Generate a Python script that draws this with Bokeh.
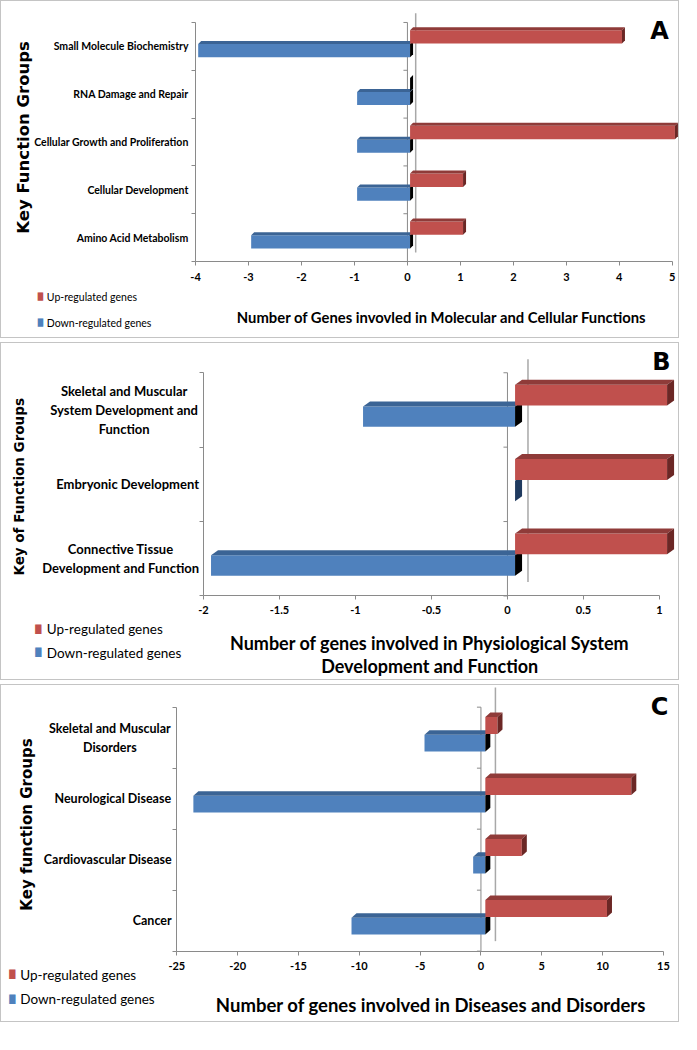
from math import pi
from bokeh.plotting import figure
from bokeh.models import FixedTicker, Label, Range1d, NumeralTickFormatter
from bokeh.layouts import column
from bokeh.embed import file_html
from bokeh.resources import INLINE

# ---------------- data ----------------
a_categories = ["Small Molecule Biochemistry", "RNA Damage and Repair",
                "Cellular Growth and Proliferation", "Cellular Development",
                "Amino Acid Metabolism"]
a_up = [4, 0, 5, 1, 1]
a_down = [-4, -1, -1, -1, -3]
a_ticks = [-4, -3, -2, -1, 0, 1, 2, 3, 4, 5]

b_categories = ["Skeletal and Muscular\nSystem Development and\nFunction",
                "Embryonic Development",
                "Connective Tissue\nDevelopment and Function"]
b_up = [1, 1, 1]
b_down = [-1, 0, -2]
b_ticks = [-2, -1.5, -1, -0.5, 0, 0.5, 1]

c_categories = ["Skeletal and Muscular\nDisorders", "Neurological Disease",
                "Cardiovascular Disease", "Cancer"]
c_up = [1, 12, 3, 10]
c_down = [-5, -24, -1, -11]
c_ticks = [-25, -20, -15, -10, -5, 0, 5, 10, 15]

legend_labels = ["Up-regulated genes", "Down-regulated genes"]

# ---------------- style ----------------
W, H = 679, 338
S = 0.985
FONT = "Lato"
WIDE = "DejaVu Sans"
RED, RED_TOP, RED_SIDE = "#c0504d", "#8f3b39", "#6b2725"
BLUE, BLUE_TOP, NAVY = "#4f81bd", "#3b6495", "#1f3a5f"
AX = "#8a8a8a"


def build(cats, up, down, ticks, cfg):
    n = len(cats)
    top0 = cfg["box_top"] + 1
    mx = lambda xr: (xr - 4) * S
    my = lambda yr: (yr - top0) * S
    fl, fr = mx(cfg["frame"][0]), mx(cfg["frame"][1])
    ft, fb = my(cfg["frame"][2]), my(cfg["frame"][3])
    xmin, xmax = ticks[0], ticks[-1]
    ppx = (fr - fl) / (xmax - xmin)
    ppy = (fb - ft) / n
    X0, X1 = xmin - fl / ppx, xmax + (W - fr) / ppx
    Y0, Y1 = -0.5 - (H - fb) / ppy, n - 0.5 + ft / ppy
    p = figure(width=W, height=H, x_range=Range1d(X0, X1),
               y_range=Range1d(Y0, Y1), output_backend="svg",
               toolbar_location=None, min_border=0,
               styles={"border": "1px solid #c4c4c4"})
    p.grid.visible = False
    p.outline_line_color = None
    ddx = cfg["depth"][0] / ppx
    ddy = cfg["depth"][1] / ppy
    s = cfg["shift"]
    yc = [n - 1 - k for k in range(n)]
    bounds = [k - 0.5 for k in range(n + 1)]

    # zero line (with its small ticks) and back-wall line
    p.segment(x0=[0], y0=[-0.5], x1=[0], y1=[n - 0.5], line_color=AX, line_width=1)
    p.segment(x0=[-4 / ppx] * len(bounds), y0=bounds, x1=[0] * len(bounds), y1=bounds,
              line_color=AX, line_width=1)
    gap = cfg["back_gap"] / ppy
    ytop = n - 0.5 + (ft - my(cfg["back_top"])) / ppy
    p.segment(x0=[cfg["back_x"]], y0=[-0.5 + gap], x1=[cfg["back_x"]], y1=[ytop],
              line_color="#a8a8a8", line_width=1.5)

    rb = [y + 0.06 for y in yc]
    rt = [y + 0.34 for y in yc]
    bb = [y - 0.227 for y in yc]
    bt = [y + 0.048 for y in yc]

    # down-regulated (blue)
    neg = [k for k in range(n) if down[k] < 0]
    p.quad(left=[down[k] + s for k in neg], right=[s] * len(neg),
           bottom=[bb[k] for k in neg], top=[bt[k] for k in neg],
           fill_color=BLUE, line_color=None)
    p.patches(xs=[[down[k] + s, s, s + ddx, down[k] + s + ddx] for k in neg],
              ys=[[bt[k], bt[k], bt[k] + ddy, bt[k] + ddy] for k in neg],
              fill_color=BLUE_TOP, line_color=None)
    p.patches(xs=[[s, s + ddx, s + ddx, s] for k in range(n)],
              ys=[[bb[k], bb[k] + ddy, bt[k] + ddy, bt[k]] for k in range(n)],
              fill_color=["black" if down[k] < 0 else NAVY for k in range(n)],
              line_color=None)

    # up-regulated (red)
    pos = [k for k in range(n) if up[k] > 0]
    p.quad(left=[s] * len(pos), right=[up[k] + s for k in pos],
           bottom=[rb[k] for k in pos], top=[rt[k] for k in pos],
           fill_color=RED, line_color=None)
    p.patches(xs=[[s, up[k] + s, up[k] + s + ddx, s + ddx] for k in pos],
              ys=[[rt[k], rt[k], rt[k] + ddy, rt[k] + ddy] for k in pos],
              fill_color=RED_TOP, line_color=None)
    p.patches(xs=[[up[k] + s, up[k] + s + ddx, up[k] + s + ddx, up[k] + s] for k in range(n)],
              ys=[[rb[k], rb[k] + ddy, rt[k] + ddy, rt[k]] for k in range(n)],
              fill_color=[RED_SIDE if up[k] > 0 else "black" for k in range(n)],
              line_color=None)

    # axes (drawn at the chart's own data location)
    xa = p.xaxis[0]
    xa.fixed_location = -0.5
    xa.bounds = (xmin, xmax)
    xa.ticker = FixedTicker(ticks=ticks)
    xa.formatter = NumeralTickFormatter(format="0.[0]")
    xa.axis_line_color = AX
    xa.major_tick_line_color = AX
    xa.major_tick_out = 4
    xa.major_tick_in = 0
    xa.minor_tick_line_color = None
    xa.major_label_text_font = FONT
    xa.major_label_text_font_style = "bold"
    xa.major_label_text_font_size = cfg["tick_size"]
    xa.major_label_text_color = "black"
    xa.major_label_standoff = cfg["tick_standoff"]

    ya = p.yaxis[0]
    ya.fixed_location = xmin
    ya.bounds = (-0.5, n - 0.5)
    ya.ticker = FixedTicker(ticks=yc, minor_ticks=bounds)
    ya.axis_line_color = AX
    ya.major_tick_line_color = None
    ya.major_tick_out = 0
    ya.major_tick_in = 0
    ya.minor_tick_line_color = AX
    ya.minor_tick_out = 4
    ya.minor_tick_in = 0
    if cfg["cat_centers"] is None:
        ya.major_label_overrides = {yc[k]: cats[k] for k in range(n)}
        ya.major_label_text_font = FONT
        ya.major_label_text_font_style = "bold"
        ya.major_label_text_font_size = cfg["cat_size"]
        ya.major_label_text_color = "black"
        ya.major_label_standoff = 3
    else:
        ya.major_label_overrides = {yc[k]: "" for k in range(n)}
        for k in range(n):
            p.add_layout(Label(x=mx(cfg["cat_centers"][k]), y=yc[k],
                               x_units="screen", y_units="data", text=cats[k],
                               text_font=FONT, text_font_style="bold",
                               text_font_size=cfg["cat_size"], text_align="center",
                               text_baseline="middle", text_color="black",
                               text_line_height=cfg["line_h"]))

    def lab(text, xr, yr, size, font, style="normal", align="center", angle=0,
            color="black"):
        p.add_layout(Label(x=mx(xr), y=H - my(yr), x_units="screen",
                           y_units="screen", text=text, text_font=font,
                           text_font_style=style, text_font_size=size,
                           text_align=align, text_baseline="middle",
                           angle=angle, text_color=color))

    for (t, xr, yr) in cfg["xtitle"]:
        lab(t, xr, yr, cfg["xtitle_size"], FONT, "bold")
    lg = cfg["legend"]
    for i, (yr, col) in enumerate(zip(lg["y"], [RED, BLUE])):
        lab("\u2588", lg["sq_x"], yr, lg["sq_size"], WIDE, color=col)
        lab(legend_labels[i], lg["text_x"], yr, lg["size"], FONT, align="left")
    t, xr, yr, sz = cfg["ytitle"]
    lab(t, xr, yr, sz, WIDE, "bold", angle=pi / 2)
    t, xr, yr = cfg["letter"]
    lab(t, xr, yr, "24px", WIDE, "bold")
    return p


pa = build(a_categories, a_up, a_down, a_ticks, dict(
    box_top=2, frame=(201, 685, 24.3, 267), shift=0.05, depth=(3, 3),
    back_x=0.156, back_gap=9, back_top=15, tick_size="11px", tick_standoff=7,
    cat_centers=None, cat_size="10.5px", line_h=1.2,
    xtitle=[("Number of Genes invovled in Molecular and Cellular Functions", 451, 323)],
    xtitle_size="14.8px",
    legend=dict(sq_x=43.5, text_x=50, y=[303, 329], size="10.5px", sq_size="7px"),
    ytitle=("Key Function Groups", 26.7, 141, "16.5px"),
    letter=("A", 672, 33)))

pb = build(b_categories, b_up, b_down, b_ticks, dict(
    box_top=350, frame=(209, 672, 380.7, 607.3), shift=0.05, depth=(7, 5),
    back_x=0.135, back_gap=14, back_top=367, tick_size="11px", tick_standoff=6,
    cat_centers=[128.5, 132, 125], cat_size="13px", line_h=1.2,
    xtitle=[("Number of genes involved in Physiological System", 438.7, 655),
            ("Development and Function", 438.7, 678)],
    xtitle_size="18px",
    legend=dict(sq_x=41.5, text_x=50, y=[641, 665], size="13.5px", sq_size="8px"),
    ytitle=("Key of Function Groups", 22, 496.5, "13.5px"),
    letter=("B", 674, 370)))

pc = build(c_categories, c_up, c_down, c_ticks, dict(
    box_top=702, frame=(182, 676, 725, 972.7), shift=0.36, depth=(5, 4.5),
    back_x=1.19, back_gap=10, back_top=705, tick_size="11px", tick_standoff=7,
    cat_centers=[114, 117, 112, 157], cat_size="12.5px", line_h=1.25,
    xtitle=[("Number of genes involved in Diseases and Disorders", 440, 1027)],
    xtitle_size="18.5px",
    legend=dict(sq_x=15, text_x=23, y=[996.7, 1021.7], size="13.5px", sq_size="8px"),
    ytitle=("Key function  Groups", 30, 841.5, "15px"),
    letter=("C", 672, 725)))

layout = column(pa, pb, pc, spacing=4)
open("out.html", "w").write(file_html(layout, INLINE))
